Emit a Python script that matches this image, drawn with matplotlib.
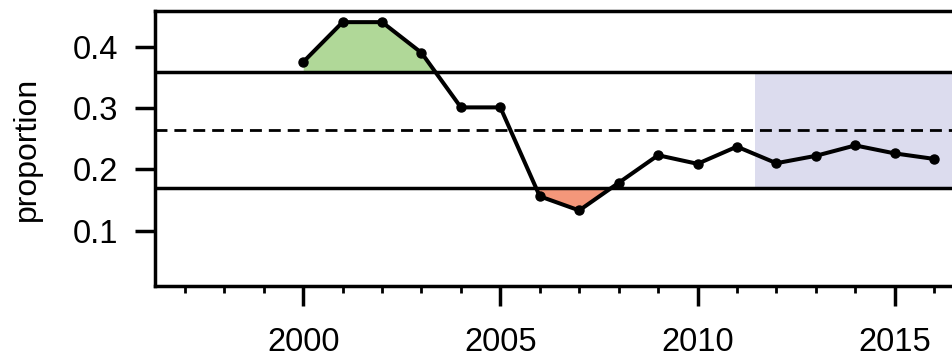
import numpy as np
import matplotlib
matplotlib.use("Agg")
import matplotlib.pyplot as plt
from matplotlib.ticker import MultipleLocator

plt.rcParams['font.family'] = ['Liberation Sans', 'DejaVu Sans']

# yearly proportions
years = np.arange(2000, 2017)
prop = np.array([0.375, 0.440, 0.440, 0.390, 0.301, 0.301, 0.156, 0.133, 0.178,
                 0.223, 0.209, 0.237, 0.210, 0.222, 0.239, 0.226, 0.217])

# reference levels: mean and upper / lower bounds
mean_level = 0.264
upper_level = 0.359
lower_level = 0.169
recent_start = 2011.46

fig = plt.figure(figsize=(9.53, 3.6), dpi=100)
ax = fig.add_axes([0.1626, 0.2056, 0.8374, 0.7639])

xmin, xmax = 1996.24, 2016.48
ax.set_xlim(xmin, xmax)
ax.set_ylim(0.0098, 0.4582)

# recent period band
ax.fill_between([recent_start, xmax + 1], lower_level, upper_level,
                color='#dcdcee', lw=0, zorder=1)

# above upper / below lower shading
ax.fill_between(years, prop, upper_level, where=prop > upper_level,
                interpolate=True, color='#b0d898', lw=0, zorder=2)
ax.fill_between(years, prop, lower_level, where=prop < lower_level,
                interpolate=True, color='#f4977a', lw=0, zorder=2)

ax.axhline(upper_level, color='black', lw=2.5, zorder=3)
ax.axhline(lower_level, color='black', lw=2.5, zorder=3)
ax.axhline(mean_level, color='black', lw=2.0, ls=(0, (4.3, 2.5)), zorder=3)

ax.plot(years, prop, color='black', lw=2.9, marker='o', ms=6.5, zorder=4)

ax.spines['right'].set_visible(False)
for s in ['left', 'top', 'bottom']:
    ax.spines[s].set_linewidth(2.5)

ax.set_yticks([0.1, 0.2, 0.3, 0.4])
ax.set_yticklabels(['0.1', '0.2', '0.3', '0.4'])
ax.set_xticks([2000, 2005, 2010, 2015])
ax.xaxis.set_minor_locator(MultipleLocator(1))
ax.tick_params(axis='both', which='major', length=14.4, width=2.5,
               labelsize=23.5, direction='out')
ax.tick_params(axis='x', which='major', pad=15)
ax.tick_params(axis='y', which='major', pad=12)
ax.tick_params(axis='x', which='minor', length=5, width=2.0)

ax.set_ylabel('proportion', fontsize=23, labelpad=22)

fig.savefig('out.png', dpi=100)
